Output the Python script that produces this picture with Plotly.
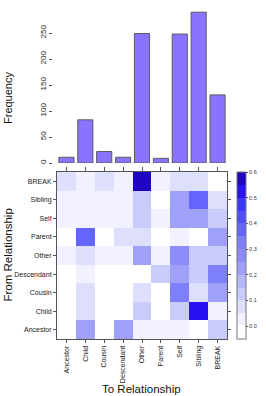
import plotly.graph_objects as go

# ---- data ----
to_labels = ["Ancestor", "Child", "Cousin", "Descendant", "Other", "Parent", "Self", "Sibling", "BREAK"]
from_labels = ["Ancestor", "Child", "Cousin", "Descendant", "Other", "Parent", "Self", "Sibling", "BREAK"]
frequency = [11, 83, 22, 11, 249, 9, 248, 290, 131]

row_ancestor   = [0.00, 0.24, 0.00, 0.24, 0.04, 0.04, 0.03, 0.00, 0.13]
row_child      = [0.00, 0.07, 0.00, 0.00, 0.14, 0.00, 0.14, 0.52, 0.04]
row_cousin     = [0.00, 0.08, 0.00, 0.00, 0.08, 0.00, 0.31, 0.08, 0.24]
row_descendant = [0.00, 0.04, 0.00, 0.00, 0.00, 0.14, 0.20, 0.14, 0.31]
row_other      = [0.01, 0.08, 0.02, 0.02, 0.24, 0.02, 0.26, 0.14, 0.14]
row_parent     = [0.00, 0.37, 0.00, 0.06, 0.06, 0.00, 0.04, 0.00, 0.23]
row_self       = [0.01, 0.04, 0.01, 0.01, 0.13, 0.02, 0.24, 0.23, 0.12]
row_sibling    = [0.01, 0.04, 0.01, 0.01, 0.13, 0.00, 0.24, 0.37, 0.06]
row_break      = [0.06, 0.02, 0.06, 0.01, 0.57, 0.02, 0.06, 0.08, 0.00]
z_rows = [row_ancestor, row_child, row_cousin, row_descendant, row_other,
          row_parent, row_self, row_sibling, row_break]

cbar_ticks = [0.0, 0.1, 0.2, 0.3, 0.4, 0.5, 0.6]

# ---- discrete colour scale ----
zmin, zmax = -0.05, 0.6
band_edges = [-0.05, 0.005, 0.05, 0.1, 0.15, 0.2, 0.25, 0.3, 0.35, 0.4, 0.45, 0.5, 0.55, 0.6]
band_colors = ["#FFFFFF", "#F1F1FF", "#DEDFFD", "#C9CBFB", "#B4B6FA", "#9FA1F9",
               "#8B8DF9", "#7E80FA", "#6464FF", "#4E4EFF", "#3A3AFF", "#2A10F4", "#1E06C0"]
colorscale = []
for i, c in enumerate(band_colors):
    colorscale.append([(band_edges[i] - zmin) / (zmax - zmin), c])
    colorscale.append([(band_edges[i + 1] - zmin) / (zmax - zmin), c])

W, H = 266, 396
def px_x(p):
    return p / W
def px_y(p):
    return 1 - p / H

x_dom = [px_x(57), px_x(227)]

fig = go.Figure()

fig.add_trace(go.Bar(
    x=to_labels, y=frequency, width=0.8,
    marker=dict(color="#8874FF", line=dict(color="#5a5a5a", width=1)),
    xaxis="x", yaxis="y", showlegend=False))

fig.add_trace(go.Heatmap(
    x=to_labels, y=from_labels, z=z_rows,
    zmin=zmin, zmax=zmax, colorscale=colorscale,
    xaxis="x2", yaxis="y2",
    colorbar=dict(
        x=px_x(237), xanchor="left", thickness=9, thicknessmode="pixels",
        y=px_y(339), yanchor="bottom", len=(339 - 172) / H, lenmode="fraction",
        xpad=0, ypad=0,
        tickvals=cbar_ticks, ticktext=[f"{v:.1f}" for v in cbar_ticks],
        ticks="outside", ticklen=2, tickcolor="#555",
        tickfont=dict(size=5.5, color="#333", family="Liberation Sans"),
        outlinewidth=1, outlinecolor="#777")))

axis_font = dict(family="Liberation Sans", size=7, color="#222")

fig.update_layout(
    width=W, height=H, margin=dict(l=0, r=0, t=0, b=0),
    paper_bgcolor="white", plot_bgcolor="white",
    font=dict(family="Liberation Sans"),
    xaxis=dict(domain=x_dom, range=[-0.5, 8.5], anchor="free", position=px_y(166),
               showticklabels=False, ticks="outside", ticklen=3, tickcolor="#555",
               showline=False, showgrid=False, zeroline=False),
    yaxis=dict(domain=[px_y(163), px_y(7)], range=[0, 300], anchor="free", position=px_x(52),
               tickvals=[0, 50, 100, 150, 200, 250], tickangle=-90,
               ticks="outside", ticklen=3, tickcolor="#555",
               tickfont=dict(family="Liberation Sans", size=8, color="#222"),
               showline=False, showgrid=False, zeroline=False),
    xaxis2=dict(domain=x_dom, anchor="y2", range=[-0.5, 8.5],
                tickangle=-90, tickfont=axis_font, ticks="outside", ticklen=3,
                tickcolor="#555", showline=True, linecolor="#555", linewidth=1,
                mirror="ticks", showgrid=False, zeroline=False),
    yaxis2=dict(domain=[px_y(339), px_y(172)], anchor="x2", range=[-0.5, 8.5],
                tickfont=axis_font, ticks="outside", ticklen=3,
                tickcolor="#555", showline=True, linecolor="#555", linewidth=1,
                mirror="ticks", showgrid=False, zeroline=False),
    annotations=[
        dict(text="Frequency", x=px_x(8), y=px_y(98), xref="paper", yref="paper",
             xanchor="center", yanchor="middle",
             textangle=-90, showarrow=False, font=dict(size=11, color="#111")),
        dict(text="From Relationship", x=px_x(7.5), y=px_y(255), xref="paper", yref="paper",
             xanchor="center", yanchor="middle",
             textangle=-90, showarrow=False, font=dict(size=11.5, color="#111")),
        dict(text="To Relationship", x=px_x(141), y=px_y(389), xref="paper", yref="paper",
             xanchor="center", yanchor="middle",
             showarrow=False, font=dict(size=11.5, color="#111")),
    ],
)

fig.write_html("out.html", config={"displayModeBar": False},
               post_script="document.body.style.margin='0';")
